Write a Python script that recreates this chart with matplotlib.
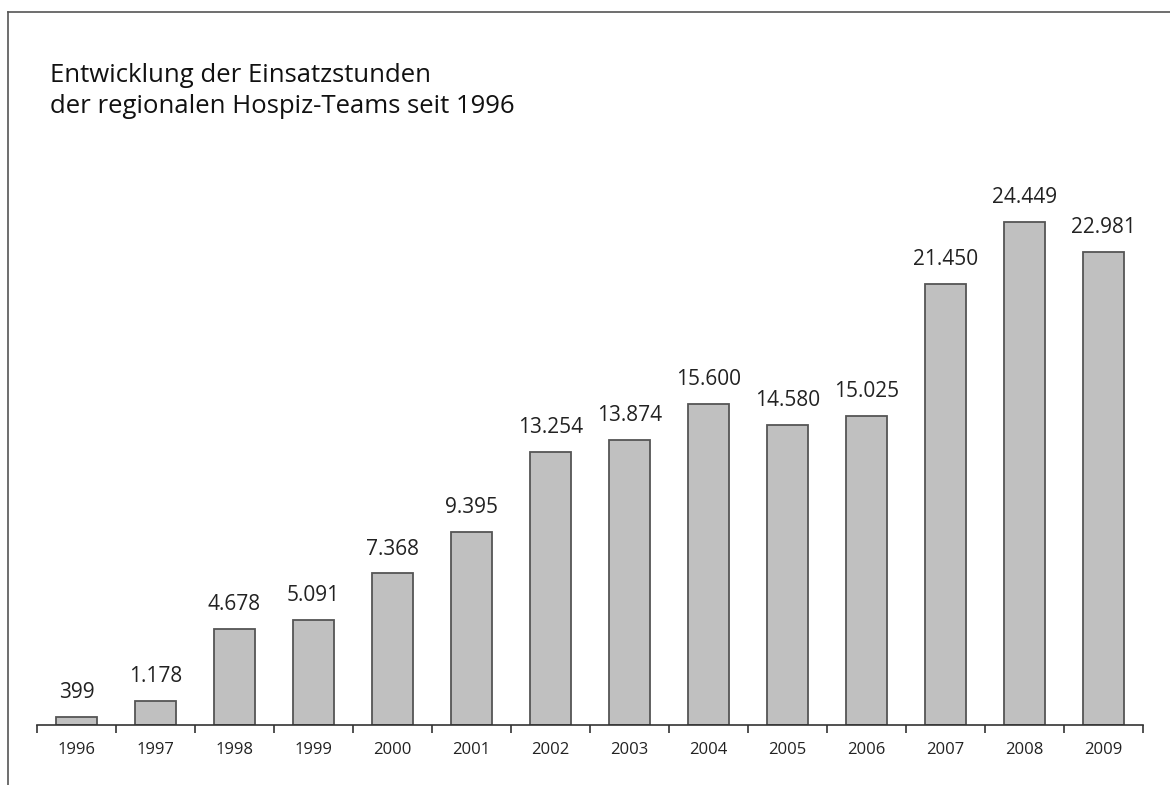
"""Einsatzstunden der regionalen Hospiz-Teams 1996-2009 als Balkendiagramm."""

import numpy as np
from matplotlib import pyplot as plt
from matplotlib.lines import Line2D

years = ['1996', '1997', '1998', '1999', '2000', '2001', '2002',
         '2003', '2004', '2005', '2006', '2007', '2008', '2009']
hours = [399, 1178, 4678, 5091, 7368, 9395, 13254,
         13874, 15600, 14580, 15025, 21450, 24449, 22981]

plt.rcParams['font.family'] = ['Open Sans', 'DejaVu Sans']

W, H = 1170, 785
fig = plt.figure(figsize=(W / 100, H / 100), dpi=100)

# axes placed in pixel coordinates of the reference
left, right, bottom, top = 37, 1143, 725, 150
ax = fig.add_axes([left / W, 1 - bottom / H, (right - left) / W, (bottom - top) / H])

x = np.arange(len(years))
ax.bar(x, hours, width=0.53, color='#c0c0c0', edgecolor='#555555', linewidth=1.3, zorder=2)

for xi, v in zip(x, hours):
    label = f'{v:,}'.replace(',', '.')
    ax.annotate(label, (xi, v), xytext=(0, 10), textcoords='offset points',
                ha='center', va='bottom', fontsize=15, color='#222222')

ax.set_xlim(-0.5, len(years) - 0.5)
ax.set_ylim(0, 27950)

for s in ['top', 'right', 'left']:
    ax.spines[s].set_visible(False)
ax.spines['bottom'].set_color('#333333')
ax.spines['bottom'].set_linewidth(1.2)
ax.set_yticks([])

ax.set_xticks(x)
ax.set_xticklabels(years, fontsize=12, color='#222222')
ax.tick_params(axis='x', which='major', length=0, pad=12)
ax.set_xticks(np.arange(-0.5, len(years)), minor=True)
ax.tick_params(axis='x', which='minor', length=6, width=1.2, color='#333333', direction='out')

fig.text(50 / W, 1 - 91 / H, 'Entwicklung der Einsatzstunden\nder regionalen Hospiz-Teams seit 1996',
         ha='left', va='center', fontsize=18.5, color='#111111', linespacing=1.3)

# frame: top and left border lines
fig.add_artist(Line2D([8 / W, 1], [1 - 12 / H, 1 - 12 / H], color='#555555', linewidth=1.2,
                      transform=fig.transFigure))
fig.add_artist(Line2D([8 / W, 8 / W], [1 - 12 / H, 0], color='#555555', linewidth=1.2,
                      transform=fig.transFigure))

fig.savefig('out.png', dpi=100)
